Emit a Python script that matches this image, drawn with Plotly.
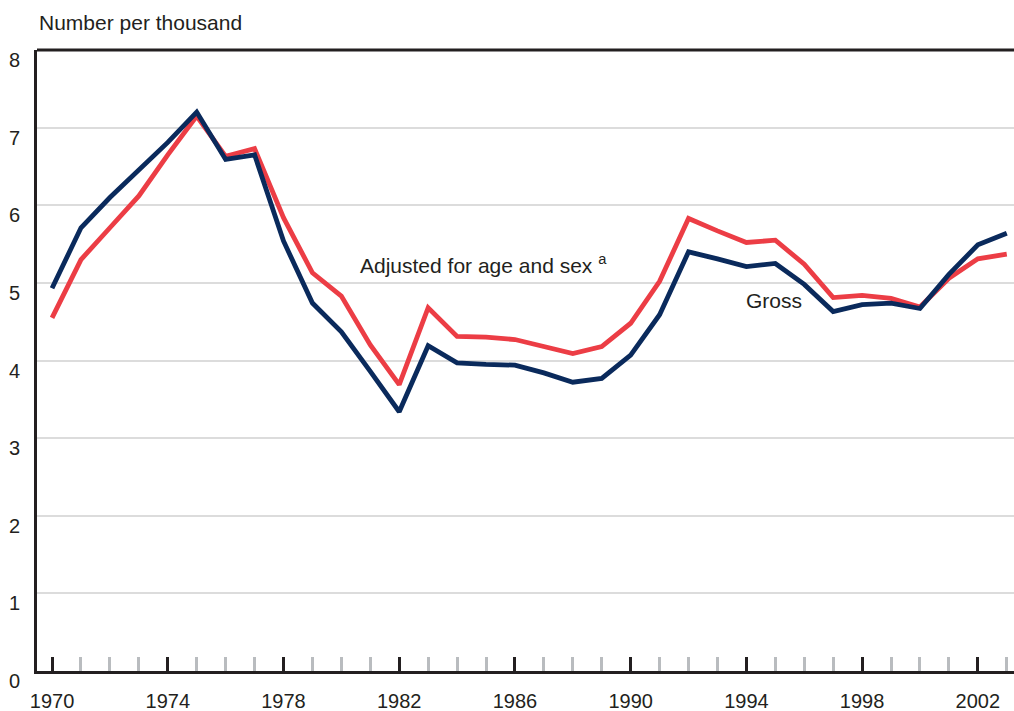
import plotly.graph_objects as go

years = list(range(1970, 2004))
gross = [4.93, 5.71, 6.10, 6.46, 6.81, 7.20, 6.59, 6.65, 5.54, 4.74,
         4.37, 3.86, 3.34, 4.19, 3.97, 3.95, 3.94, 3.84, 3.72, 3.77,
         4.07, 4.59, 5.40, 5.31, 5.21, 5.25, 4.98, 4.63, 4.72, 4.74,
         4.67, 5.11, 5.49, 5.64]
adjusted = [4.55, 5.30, 5.71, 6.12, 6.65, 7.15, 6.63, 6.73, 5.84, 5.13,
            4.83, 4.20, 3.69, 4.68, 4.31, 4.30, 4.27, 4.18, 4.09, 4.18,
            4.48, 5.02, 5.83, 5.67, 5.52, 5.55, 5.24, 4.81, 4.84, 4.80,
            4.69, 5.06, 5.31, 5.37]
y_ticks = [0, 1, 2, 3, 4, 5, 6, 7, 8]
x_tick_years = [1970, 1974, 1978, 1982, 1986, 1990, 1994, 1998, 2002]

RED = "#ec3d45"
NAVY = "#0a2a5c"
TXT = "#231f20"
FONT = "Liberation Sans, Arial, sans-serif"

fig = go.Figure()
fig.add_trace(go.Scatter(x=years, y=adjusted, mode="lines", name="Adjusted",
                         line=dict(color=RED, width=4.8)))
fig.add_trace(go.Scatter(x=years, y=gross, mode="lines", name="Gross",
                         line=dict(color=NAVY, width=4.8)))

annotations = []
for v in y_ticks:
    annotations.append(dict(x=0, xref="paper", y=v, yref="y", text=str(v),
                            showarrow=False, xanchor="right", yanchor="middle",
                            xshift=-15, yshift=-10,
                            font=dict(size=20, color=TXT, family=FONT)))
annotations.append(dict(x=0, xref="paper", y=1, yref="paper",
                        text="Number per thousand", showarrow=False,
                        xanchor="left", yanchor="bottom", yshift=14,
                        font=dict(size=21, color=TXT, family=FONT)))
annotations.append(dict(x=1980.58, y=5.24,
                        text="Adjusted for age and sex <sup>a</sup>",
                        showarrow=False, xanchor="left", yanchor="middle",
                        font=dict(size=21, color=TXT, family=FONT)))
annotations.append(dict(x=1993.92, y=4.77, text="Gross",
                        showarrow=False, xanchor="left", yanchor="middle",
                        font=dict(size=21, color=TXT, family=FONT)))

fig.update_layout(
    width=1014, height=711,
    margin=dict(l=37, r=0, t=50, b=40),
    plot_bgcolor="white", paper_bgcolor="white",
    showlegend=False,
    font=dict(family=FONT, color=TXT, size=20),
    annotations=annotations,
    shapes=[dict(type="line", xref="paper", yref="paper", x0=0, x1=1, y0=1, y1=1,
                 line=dict(color=TXT, width=3))],
)
fig.update_xaxes(
    range=[1969.48, 2003.25],
    tickvals=x_tick_years, ticktext=[str(y) for y in x_tick_years],
    ticks="inside", ticklen=14, tickwidth=2.5, tickcolor=TXT,
    minor=dict(dtick=1, tick0=1970, ticks="inside", ticklen=14, tickwidth=2.5,
               tickcolor="#b9bcbf", showgrid=False),
    showline=True, linecolor=TXT, linewidth=3,
    showgrid=False, zeroline=False,
    tickfont=dict(size=20, color=TXT, family=FONT),
    ticklabelstandoff=10,
)
fig.update_yaxes(
    range=[0, 8], dtick=1, tick0=0,
    showticklabels=False, ticks="",
    showline=True, linecolor=TXT, linewidth=3,
    showgrid=True, gridcolor="#dcdcdc", gridwidth=2,
    zeroline=False,
)

fig.write_html("out.html", config={"displayModeBar": False},
               post_script="document.body.style.margin='0';document.body.style.padding='0';")
